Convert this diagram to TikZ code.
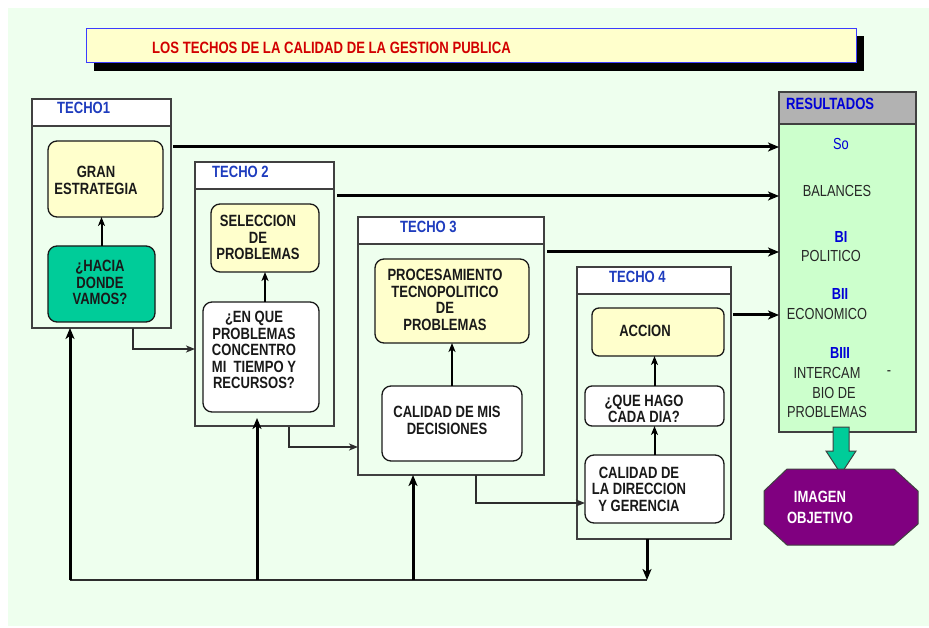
\documentclass[tikz,border=0pt]{standalone}
\usepackage{fontspec}
\newfontfamily\nf{Liberation Sans}[FakeStretch=0.8]
\usetikzlibrary{arrows.meta}
\definecolor{bg}{RGB}{238,255,238}
\definecolor{ylw}{RGB}{255,255,204}
\definecolor{teal1}{RGB}{0,204,153}
\definecolor{resg}{RGB}{204,255,204}
\definecolor{hdrgray}{RGB}{178,178,178}
\definecolor{fgray}{RGB}{64,64,64}
\definecolor{tblue}{RGB}{30,60,190}
\definecolor{rblue}{RGB}{0,0,215}
\definecolor{tred}{RGB}{210,0,0}
\definecolor{purp}{RGB}{128,0,128}
\definecolor{titleblue}{RGB}{60,60,255}
\begin{document}
\begin{tikzpicture}[x=1pt,y=-1pt,
  frame/.style={draw=fgray, line width=1.3pt, fill=bg, anchor=north west, inner sep=0pt, outer sep=0pt},
  hdr/.style={frame, fill=white},
  rbox/.style={draw=black!90, line width=1.3pt, rounded corners=9pt, anchor=north west, inner sep=0pt, outer sep=0pt},
  lbl/.style={font=\nf\bfseries\fontsize{16.3}{16.6}\selectfont, align=center, inner sep=0pt, text=black!90},
  rtxt/.style={font=\nf\fontsize{16}{16}\selectfont, inner sep=0pt, text=black!85},
  rbold/.style={font=\nf\bfseries\fontsize{16}{16}\selectfont, inner sep=0pt, text=rblue},
  techolbl/.style={font=\nf\bfseries\fontsize{16.3}{16.6}\selectfont, inner sep=0pt, anchor=west, text=tblue},
  conn/.style={draw=fgray!70!black, line width=1.5pt, -{Stealth[length=9pt,width=7pt,inset=2.5pt]}},
  upar/.style={line width=2pt, -{Stealth[length=9pt,width=7pt,inset=2.5pt]}},
  thk/.style={line width=3pt, -{Stealth[length=11pt,width=9pt,inset=3pt]}},
  bus/.style={draw=fgray!70!black, line width=1.5pt}
]
\useasboundingbox (0,0) rectangle (929,628);
\fill[white] (0,0) rectangle (929,628);
\fill[bg] (8,8) rectangle (929,626);

% title
\fill[black] (94,36) rectangle (864,71);
\node[draw=titleblue, line width=1pt, fill=ylw, anchor=north west, inner sep=0pt, outer sep=0pt,
      minimum width=770pt, minimum height=34pt] (title) at (86,29) {};
\node[font=\nf\bfseries\fontsize{16.4}{16.4}\selectfont, text=tred, anchor=west, inner sep=0pt] (titletxt) at (152,48)
  {LOS TECHOS DE LA CALIDAD DE LA GESTION PUBLICA};

% frames
\node[frame, minimum width=139pt, minimum height=229pt] (t1) at (32,99) {};
\node[hdr, minimum width=139pt, minimum height=27pt] (t1h) at (32,99) {};
\node[techolbl] (t1l) at (57,108) {TECHO1};

\node[frame, minimum width=139pt, minimum height=264pt] (t2) at (195,162) {};
\node[hdr, minimum width=139pt, minimum height=27pt] (t2h) at (195,162) {};
\node[techolbl] (t2l) at (212,172) {TECHO 2};

\node[frame, minimum width=186pt, minimum height=258pt] (t3) at (358,217) {};
\node[hdr, minimum width=186pt, minimum height=27pt] (t3h) at (358,217) {};
\node[techolbl] (t3l) at (400,227) {TECHO 3};

\node[frame, minimum width=154pt, minimum height=272pt] (t4) at (577,267) {};
\node[hdr, minimum width=154pt, minimum height=27pt] (t4h) at (577,267) {};
\node[techolbl] (t4l) at (609,277) {TECHO 4};

% resultados
\node[frame, fill=resg, minimum width=137pt, minimum height=340pt] (res) at (779,92) {};
\node[frame, fill=hdrgray, minimum width=137pt, minimum height=32pt] (resh) at (779,92) {};
\node[techolbl, text=rblue] (resl) at (786,104) {RESULTADOS};

% inner boxes
\node[rbox, fill=ylw, minimum width=115pt, minimum height=76pt] (gran) at (48,141) {};
\node[lbl] (granl) at (96,180.5) {GRAN\\ESTRATEGIA};
\node[rbox, fill=teal1, minimum width=107pt, minimum height=76pt] (hacia) at (48,246) {};
\node[lbl] (hacial) at (100,282.7) {¿HACIA\\DONDE\\VAMOS?};

\node[rbox, fill=ylw, minimum width=108pt, minimum height=68pt] (sel) at (211,204) {};
\node[lbl] (sell) at (258,237.5) {SELECCION\\DE\\PROBLEMAS};
\node[rbox, fill=white, minimum width=116pt, minimum height=110pt] (enque) at (203,302) {};
\node[lbl] (enquel) at (254,350) {¿EN QUE\\PROBLEMAS\\CONCENTRO\\MI\ \ TIEMPO Y\\RECURSOS?};

\node[rbox, fill=ylw, minimum width=154pt, minimum height=84pt] (proc) at (375,259) {};
\node[lbl] (procl) at (445,300) {PROCESAMIENTO\\TECNOPOLITICO\\DE\\PROBLEMAS};
\node[rbox, fill=white, minimum width=140pt, minimum height=75pt] (calmis) at (382,386) {};
\node[lbl] (calmisl) at (447,420.5) {CALIDAD DE MIS\\DECISIONES};

\node[rbox, rounded corners=7pt, fill=ylw, minimum width=132pt, minimum height=48pt] (accion) at (592,308) {};
\node[lbl] (accionl) at (645,331) {ACCION};
\node[rbox, rounded corners=7pt, fill=white, minimum width=139pt, minimum height=40pt] (quehago) at (585,386) {};
\node[lbl] (quehagol) at (644,409) {¿QUE HAGO\\CADA DIA?};
\node[rbox, fill=white, minimum width=139pt, minimum height=68pt] (dir) at (585,455) {};
\node[lbl] (dirl) at (639,489) {CALIDAD DE\\LA DIRECCION\\Y GERENCIA};

% inner arrows
\draw[upar] (hacia.north) -- (hacia.north |- gran.south);
\draw[upar] (sel.south |- enque.north) -- (sel.south);
\draw[upar] (calmis.north) -- (proc.south);
\draw[upar] (quehago.north -| dir.north) -- (accion.south -| dir.north);
\draw[upar] (dir.north) -- (quehago.south -| dir.north);

% thin connectors between frames
\coordinate (a1) at (133,328); \coordinate (a1e) at (195,349);
\coordinate (a2) at (289,427); \coordinate (a2e) at (358,447);
\coordinate (a3) at (476,475); \coordinate (a3e) at (585,503);
\draw[conn] (a1) |- (a1e);
\draw[conn] (a2) |- (a2e);
\draw[conn] (a3) |- (a3e);

% bus and thick arrows
\coordinate (b0) at (70,580); \coordinate (b1) at (257,580);
\coordinate (b2) at (413,580); \coordinate (b3) at (647,580);
\coordinate (b1t) at (257,418);
\draw[bus] (b0) -- (b3);
\draw[thk] (b0) -- (b0 |- t1.south);
\draw[thk] (b1) -- (b1t);
\draw[thk] (b2) -- (b2 |- t3.south);
\draw[thk] (b3 |- t4.south) -- (b3);

% horizontal arrows to resultados
\coordinate (h1) at (173,147); \coordinate (h2) at (337,196);
\coordinate (h3) at (547,252); \coordinate (h4) at (733,315);
\draw[thk] (h1) -- (h1 -| res.west);
\draw[thk] (h2) -- (h2 -| res.west);
\draw[thk] (h3) -- (h3 -| res.west);
\draw[thk] (h4) -- (h4 -| res.west);

% resultados texts
\node[rtxt, text=rblue] (so) at (841,144) {So};
\node[rtxt] (bal) at (837,191) {BALANCES};
\node[rbold] (bi) at (841,237) {BI};
\node[rtxt] (pol) at (831,256) {POLITICO};
\node[rbold] (bii) at (840,294) {BII};
\node[rtxt] (eco) at (827,314) {ECONOMICO};
\node[rbold] (biii) at (840,353) {BIII};
\node[rtxt] (inter) at (827,373) {INTERCAM};
\node[rtxt] (dash) at (889,373) {-};
\node[rtxt] (bio) at (834,393) {BIO DE};
\node[rtxt] (probs) at (827,412) {PROBLEMAS};

% block arrow
\draw[fill=teal1, draw=fgray, line width=1pt]
  (833,427) -- (849,427) -- (849,451) -- (856,451) -- (841,474) -- (826,451) -- (833,451) -- cycle;

% imagen objetivo octagon
\draw[fill=purp, draw=fgray, line width=1pt]
  (787,469) -- (894,469) -- (918,491) -- (918,524) -- (894,545) -- (787,545) -- (764,524) -- (764,491) -- cycle;
\node[lbl, text=white, font=\nf\bfseries\fontsize{16.3}{21}\selectfont] (img) at (820,507.5) {IMAGEN\\OBJETIVO};
\end{tikzpicture}
\end{document}
